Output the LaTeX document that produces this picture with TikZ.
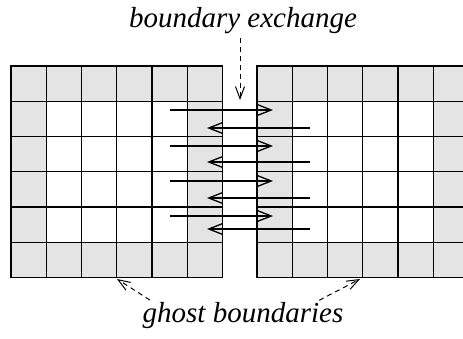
\documentclass[tikz,border=0pt]{standalone}
\usepackage{fontspec}
\setmainfont{Liberation Serif}
\newfontfamily\lblfont{Liberation Serif}
\usetikzlibrary{arrows.meta, positioning}
\definecolor{GhostGray}{HTML}{E4E4E4}

\begin{document}
\begin{tikzpicture}[x=1pt, y=-1pt,
  cell/.style={draw=black, line width=1.4pt, line cap=rect},
  xfer/.style={-{Straight Barb[length=14pt, width=11pt, line width=1.3pt]}, line width=1.3pt},
  hint/.style={-{Straight Barb[length=12pt, width=9pt, line width=1pt]}, dash pattern=on 5pt off 4pt, line width=1pt},
  lbl/.style={font=\lblfont\itshape\fontsize{29}{32}\selectfont, inner sep=0pt}
]
\useasboundingbox (0,0) rectangle (463,338);
\clip (0,0) rectangle (463,338);

% the two subdomains, ghost ring shaded
\foreach \gx in {11, 257} {
  \fill[GhostGray] (\gx,66) rectangle ++(211.5,211.5);
  \fill[white] (\gx+35.25,101.25) rectangle ++(141,141);
  \foreach \k in {0,...,6} {
    \draw[cell] (\gx+\k*35.25,66) -- ++(0,211.5);
    \draw[cell] (\gx,66+\k*35.25) -- ++(211.5,0);
  }
}

% exchange arrows
\foreach \y in {110, 146, 181, 216}
  \draw[xfer] (170,\y) -- (273,\y);
\foreach \y in {128, 162, 198, 229}
  \draw[xfer] (310,\y) -- (207,\y);

\node[lbl, anchor=base] (exch) at (243,27) {boundary exchange};
\node[lbl, anchor=base] (ghost) at (243,322) {ghost boundaries};

\coordinate (exchtip) at (240,100);
\coordinate (ltip) at (117,279);
\coordinate (rtip) at (360,279);

\draw[hint, shorten <=5pt] (exchtip |- exch.south) -- (exchtip);
\draw[hint, shorten <=3pt] ([xshift=10pt]ghost.north west) -- (ltip);
\draw[hint, shorten <=3pt] ([xshift=-27pt]ghost.north east) -- (rtip);
\end{tikzpicture}
\end{document}
